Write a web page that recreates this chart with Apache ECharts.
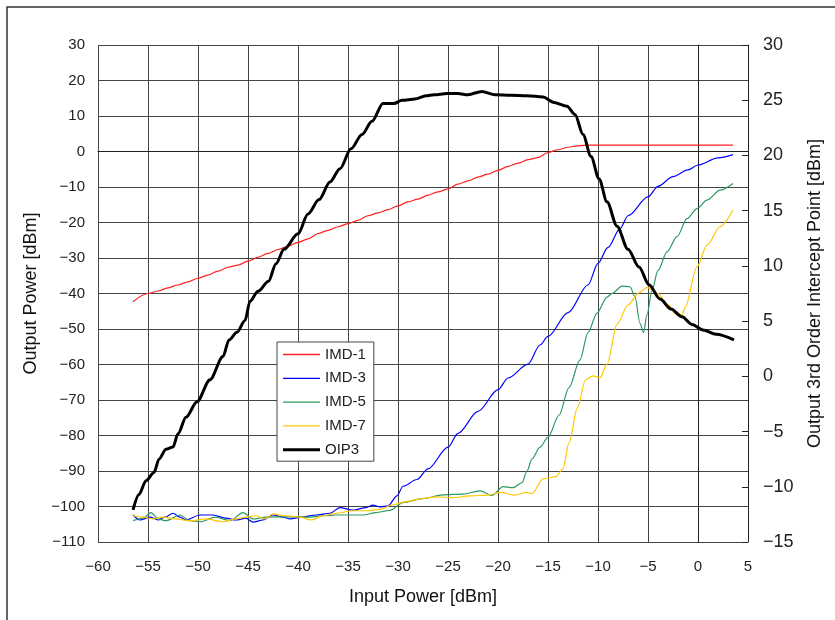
<!DOCTYPE html>
<html>
<head>
<meta charset="utf-8">
<script src="https://cdn.jsdelivr.net/npm/echarts@6/dist/echarts.min.js"></script>
<style>
  html, body { margin: 0; padding: 0; background: #fff; }
  #chart { width: 835px; height: 620px; }
</style>
</head>
<body>
<div id="chart"></div>
<script>
// Input Power [dBm] vs output power
const seriesNames = ['IMD-1', 'IMD-3', 'IMD-5', 'IMD-7', 'OIP3']

const imd1 = [
  [-56.5, -42.3], [-55, -40.0], [-54, -39.3], [-53, -38.4], [-52, -37.6], [-51, -36.7],
  [-50, -35.7], [-49, -34.8], [-48, -33.7], [-47, -32.6], [-46, -32.0], [-45, -30.9],
  [-44, -29.8], [-43, -28.7], [-42, -27.6], [-41, -26.7], [-40, -25.6], [-39, -24.6],
  [-38, -23.1], [-37, -22.2], [-36, -21.2], [-35, -20.3], [-34, -19.4], [-33, -18.1],
  [-32, -17.3], [-31, -16.4], [-30, -15.3], [-29, -14.2], [-28, -13.4], [-27, -12.3],
  [-26, -11.4], [-25, -10.5], [-24, -9.2], [-23, -8.3], [-22, -7.2], [-21, -6.4],
  [-20, -5.3], [-19, -4.2], [-18, -3.3], [-17, -2.3], [-16, -1.7], [-15, -0.3],
  [-14, 0.5], [-13, 1.2], [-12, 1.6], [-11, 1.8], [-8, 1.8], [-4, 1.8], [0, 1.8], [3.5, 1.8]
]

const imd3 = [
  [-56.5, -102.4], [-55.8, -103.8], [-54.8, -103.0], [-54, -103.8], [-53.3, -103.0],
  [-52.5, -101.9], [-51.8, -103.0], [-51.2, -103.8], [-49.8, -102.4], [-48.5, -102.4],
  [-47.2, -103.3], [-46.2, -103.8], [-45.2, -103.3], [-44.5, -104.4], [-43.5, -103.8],
  [-42.5, -102.4], [-41.5, -103.0], [-40.8, -103.5], [-39.5, -102.9], [-38.2, -102.4],
  [-36.8, -101.9], [-35.8, -100.3], [-34.5, -101.0], [-33.2, -100.3], [-32.5, -99.6],
  [-31.8, -100.1], [-31, -99.8], [-30.1, -97.0], [-29.5, -94.3], [-28.1, -92.4],
  [-27, -89.4], [-25, -83.3], [-24, -79.4], [-22, -73.2], [-20, -67.1], [-19, -63.8],
  [-17, -59.9], [-15.8, -54.5], [-15, -52.1], [-13, -45.4], [-11, -37.6], [-10, -31.5],
  [-9, -27.0], [-7.8, -21.7], [-7, -18.1], [-5, -12.8], [-4, -9.8], [-2.5, -7.1],
  [-1, -5.2], [0, -3.8], [2, -1.8], [3.5, -0.9]
]

const imd5 = [
  [-56.5, -104.0], [-55.5, -103.3], [-54.7, -101.7], [-54, -103.5], [-53.2, -104.0],
  [-51.8, -102.4], [-50.8, -104.0], [-49.8, -104.3], [-48.2, -103.0], [-46.8, -104.0],
  [-45.5, -101.7], [-44.5, -103.5], [-43.2, -103.0], [-41.5, -102.9], [-40.2, -102.9],
  [-38.8, -103.0], [-37.5, -102.6], [-36.2, -102.4], [-34.8, -102.4], [-33.5, -102.4],
  [-32.2, -101.7], [-30.8, -101.1], [-29.5, -98.9], [-27.5, -97.8], [-25.5, -96.7],
  [-23.5, -96.5], [-21.8, -95.6], [-20.6, -96.9], [-19.5, -94.4], [-18.5, -94.7],
  [-17.6, -93.3], [-17.1, -90.0], [-16.6, -86.6], [-15.8, -83.3], [-15, -80.5],
  [-13.9, -74.3], [-12.9, -66.5], [-11.8, -58.7], [-11, -51.0], [-10.1, -45.5],
  [-9.1, -41.0], [-8.6, -40.0], [-7.6, -37.9], [-6.8, -38.1], [-6.3, -40.9],
  [-5.8, -48.4], [-5.45, -51.0], [-5.1, -46.0], [-4.6, -39.1], [-4, -33.5],
  [-3.1, -28.3], [-2.1, -24.0], [-1.1, -18.9], [-0.1, -16.1], [0.9, -13.7],
  [2.2, -10.9], [3.5, -9.0]
]

const imd7 = [
  [-56.5, -102.6], [-55.5, -103.0], [-54.5, -103.5], [-53.5, -103.0], [-52.2, -103.5],
  [-50.8, -104.0], [-49.2, -103.5], [-47.5, -104.3], [-46.2, -103.5], [-45.2, -103.0],
  [-44.2, -102.6], [-43.3, -103.5], [-42.5, -102.1], [-41.2, -102.6], [-39.8, -103.0],
  [-38.7, -103.8], [-37.5, -102.6], [-36.2, -101.9], [-34.5, -101.2], [-33.2, -101.2],
  [-31.8, -100.8], [-30.5, -99.5], [-29.2, -98.6], [-27.5, -97.7], [-26.2, -97.3],
  [-24.5, -97.5], [-22.8, -97.0], [-21, -96.8], [-19.7, -96.0], [-18.4, -96.8],
  [-17.1, -96.0], [-16.6, -96.4], [-15.5, -92.2], [-14.2, -91.6], [-13.5, -89.4],
  [-12.9, -82.1], [-12.05, -72.1], [-11.25, -64.3], [-10.5, -63.2], [-9.8, -63.8],
  [-9.1, -59.9], [-8.1, -48.7], [-7, -43.2], [-5.9, -39.8], [-5.1, -38.3],
  [-4.1, -39.8], [-3, -43.2], [-2.1, -46.0], [-1.6, -46.1], [-1.3, -44.0],
  [-0.1, -32.5], [0.9, -26.4], [2.2, -21.2], [3.5, -16.5]
]

// OIP3 uses the right axis
const oip3 = [
  [-56.5, -12.1], [-55.9, -10.7], [-55.2, -9.45], [-54.4, -8.7], [-53.9, -7.5],
  [-53.2, -6.6], [-52.5, -6.4], [-52, -5.2], [-51.2, -3.7], [-50.1, -2.3],
  [-48.8, -0.3], [-47.5, 1.8], [-46.9, 3.3], [-46.1, 4.0], [-45.3, 5.05],
  [-44.8, 6.8], [-44, 7.7], [-42.95, 8.6], [-42.2, 10.2], [-41.4, 11.5],
  [-40, 12.9], [-39, 14.7], [-37.9, 16.0], [-36.8, 17.6], [-35.8, 18.8],
  [-34.7, 20.6], [-33.6, 21.9], [-32.6, 23.1], [-31.5, 24.7], [-30.4, 24.7],
  [-29.6, 25.0], [-28.3, 25.1], [-27.2, 25.4], [-26.4, 25.5], [-25.1, 25.6],
  [-24, 25.6], [-23, 25.5], [-21.6, 25.8], [-20.3, 25.5], [-18.7, 25.45],
  [-17.1, 25.4], [-15.5, 25.3], [-14.4, 24.8], [-13.1, 24.45], [-12.3, 23.7],
  [-11.5, 21.9], [-10.7, 19.9], [-9.9, 17.9], [-9.1, 15.8], [-8.1, 13.6],
  [-7, 11.5], [-5.9, 9.9], [-4.9, 8.3], [-3.8, 7.0], [-2.7, 6.1],
  [-1.6, 5.4], [-0.6, 4.7], [0.5, 4.2], [1.8, 3.8], [3.6, 3.3]
]

const colors = ['#ff2020', '#0000ff', '#2e9960', '#ffc800', '#000000']
const widths = [1.2, 1.2, 1.2, 1.2, 3]
const allData = [imd1, imd3, imd5, imd7, oip3]

const minus = v => String(v).replace('-', '\u2212')
const font = 'Liberation Sans, Arial, sans-serif'

// legend swatches: plain line segments (thin for IMD, thick for OIP3)
const thinIcon = 'path://M0,0L37,0L37,1.3L0,1.3Z'
const thickIcon = 'path://M0,0L37,0L37,3L0,3Z'

const chart = echarts.init(document.getElementById('chart'))
chart.setOption({
  animation: false,
  textStyle: { fontFamily: font },
  graphic: [
    {
      type: 'rect',
      silent: true,
      shape: { x: 7, y: 7, width: 900, height: 700 },
      style: { fill: 'none', stroke: '#333', lineWidth: 1.5 },
    },
  ],
  grid: { left: 98, right: 87, top: 45, bottom: 78 },
  legend: {
    data: seriesNames.map((n, i) => ({ name: n, icon: i === 4 ? thickIcon : thinIcon })),
    orient: 'vertical',
    left: 277,
    top: 342,
    itemWidth: 37,
    itemHeight: 14,
    itemGap: 8.8,
    symbolKeepAspect: true,
    padding: [5, 8, 4, 6],
    backgroundColor: '#fff',
    borderColor: '#444',
    borderWidth: 1,
    textStyle: { fontSize: 15, color: '#222', fontFamily: font },
  },
  xAxis: {
    type: 'value',
    min: -60,
    max: 5,
    interval: 5,
    name: 'Input Power [dBm]',
    nameLocation: 'middle',
    nameGap: 46,
    nameTextStyle: { fontSize: 18, color: '#111' },
    axisLine: { show: true, lineStyle: { color: '#222', width: 1 } },
    axisTick: { show: false },
    axisLabel: { fontSize: 15, color: '#222', margin: 17, formatter: minus },
    splitLine: { show: true, lineStyle: { color: '#444', width: 1 } },
  },
  yAxis: [
    {
      type: 'value',
      min: -110,
      max: 30,
      interval: 10,
      name: 'Output Power [dBm]',
      nameLocation: 'middle',
      nameRotate: 90,
      nameGap: 58,
      nameTextStyle: { fontSize: 18, color: '#111' },
      axisLine: { show: true, lineStyle: { color: '#222', width: 1 } },
      axisTick: { show: false },
      axisLabel: { fontSize: 15, color: '#222', margin: 13, formatter: minus },
      splitLine: { show: true, lineStyle: { color: '#444', width: 1 } },
    },
    {
      type: 'value',
      position: 'right',
      min: -15,
      max: 30,
      interval: 5,
      name: 'Output 3rd Order Intercept Point [dBm]',
      nameLocation: 'middle',
      nameRotate: 90,
      nameGap: 58,
      nameTextStyle: { fontSize: 18, color: '#111' },
      axisLine: { show: true, lineStyle: { color: '#222', width: 1 } },
      axisTick: { show: true, inside: true, length: 6, lineStyle: { color: '#222' } },
      axisLabel: { fontSize: 18, color: '#222', margin: 15, formatter: minus },
      splitLine: { show: false },
    },
  ],
  series: allData.map((d, i) => ({
    name: seriesNames[i],
    type: 'line',
    yAxisIndex: i === 4 ? 1 : 0,
    data: d,
    symbol: 'none',
    showSymbol: false,
    smooth: 0.3,
    smoothMonotone: 'x',
    color: colors[i],
    lineStyle: { color: colors[i], width: widths[i] },
    z: i === 4 ? 5 : 3,
  })),
})
</script>
</body>
</html>
